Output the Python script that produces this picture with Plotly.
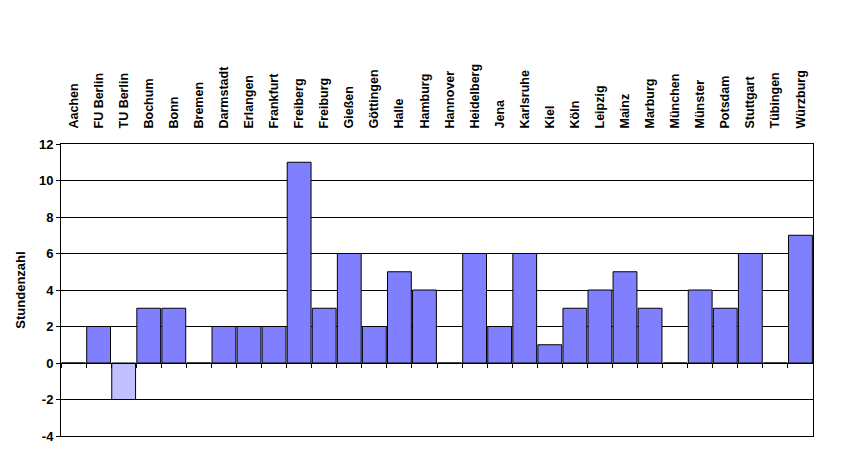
import plotly.graph_objects as go

cities = [
    "Aachen", "FU Berlin", "TU Berlin", "Bochum", "Bonn", "Bremen",
    "Darmstadt", "Erlangen", "Frankfurt", "Freiberg", "Freiburg", "Gießen",
    "Göttingen", "Halle", "Hamburg", "Hannover", "Heidelberg", "Jena",
    "Karlsruhe", "Kiel", "Köln", "Leipzig", "Mainz", "Marburg", "München",
    "Münster", "Potsdam", "Stuttgart", "Tübingen", "Würzburg",
]
hours = [0, 2, -2, 3, 3, 0, 2, 2, 2, 11, 3, 6, 2, 5, 4, 0, 6, 2, 6, 1, 3, 4,
         5, 3, 0, 4, 3, 6, 0, 7]

Y_RANGE = [-4, 12]
Y_TICKS = list(range(-4, 13, 2))
X_RANGE = [-0.5, len(cities) - 0.5]
FAMILY = "Arial, Liberation Sans, sans-serif"
LABEL_FONT = dict(family=FAMILY, size=12.5, color="black", weight="bold")
Y_FONT = dict(family=FAMILY, size=13, color="black", weight="bold")

# negative values get the lighter shade
colors = ["#C0C0FF" if v < 0 else "#8080FF" for v in hours]

fig = go.Figure()
fig.add_trace(
    go.Bar(
        x=cities,
        y=hours,
        marker=dict(color=colors, line=dict(color="black", width=1)),
        showlegend=False,
    )
)
# invisible trace on a helper subplot whose x axis sits on the zero line
fig.add_trace(
    go.Scatter(
        x=cities, y=[0] * len(cities), xaxis="x2", yaxis="y2", mode="markers",
        marker=dict(opacity=0), hoverinfo="skip", showlegend=False,
    )
)

zero_pos = (0 - Y_RANGE[0]) / (Y_RANGE[1] - Y_RANGE[0])

fig.update_layout(
    width=864,
    height=462,
    margin=dict(l=50, r=59, t=136, b=34),
    paper_bgcolor="white",
    plot_bgcolor="rgba(0,0,0,0)",
    bargap=0.05,
    font=LABEL_FONT,
    xaxis=dict(
        type="category",
        range=X_RANGE,
        side="top",
        tickangle=-90,
        ticks="",
        ticklabelstandoff=12,
        tickfont=LABEL_FONT,
        showgrid=False,
        showline=True,
        mirror=True,
        linecolor="black",
        linewidth=1,
    ),
    xaxis2=dict(
        type="category",
        range=X_RANGE,
        anchor="y2",
        side="bottom",
        showline=True,
        linecolor="black",
        linewidth=1,
        ticks="outside",
        tickson="boundaries",
        ticklen=4,
        tickcolor="black",
        tickwidth=1,
        showticklabels=False,
        showgrid=False,
        zeroline=False,
    ),
    yaxis=dict(
        range=Y_RANGE,
        tickvals=Y_TICKS,
        ticktext=[str(v) for v in Y_TICKS],
        showgrid=True,
        gridcolor="black",
        gridwidth=1,
        zeroline=True,
        zerolinecolor="black",
        zerolinewidth=1,
        showline=True,
        mirror=True,
        linecolor="black",
        ticks="outside",
        ticklen=4,
        tickcolor="black",
        tickfont=Y_FONT,
        title=dict(text="Stundenzahl", font=Y_FONT, standoff=10),
    ),
    yaxis2=dict(
        domain=[zero_pos, 1],
        anchor="x2",
        range=[0, 1],
        showticklabels=False,
        showgrid=False,
        zeroline=False,
        showline=False,
        ticks="",
    ),
)

fig.write_html("out.html")
